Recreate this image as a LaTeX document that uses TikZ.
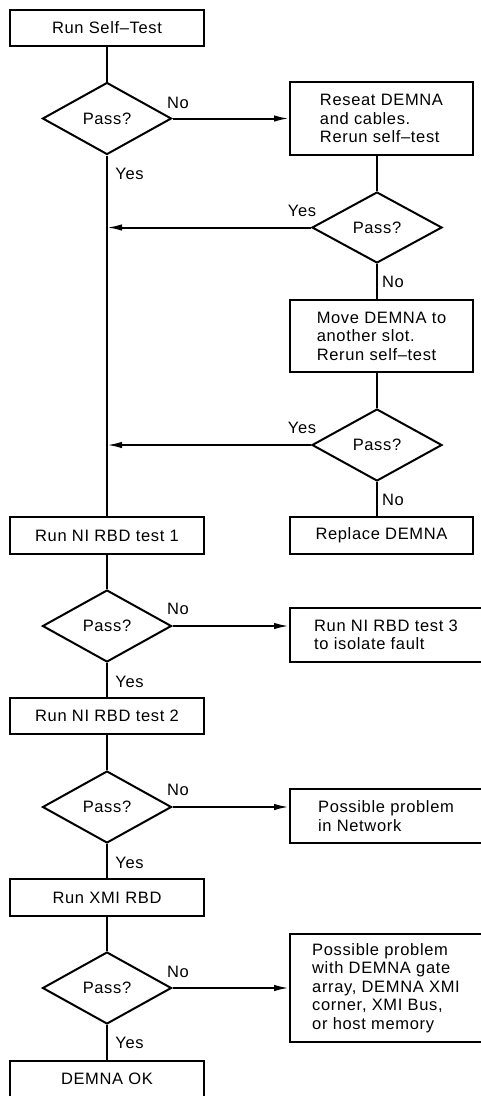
\documentclass[tikz,border=0pt]{standalone}
\usepackage{fontspec}
\setmainfont{Liberation Sans}[LetterSpace=4]
\usetikzlibrary{arrows.meta, shapes.geometric}
\tikzset{
  every picture/.style={line width=2pt},
  box/.style={draw, align=center, inner sep=4pt, minimum width=#1, minimum height=36pt},
  box/.default=194pt,
  note/.style={draw, align=left, inner sep=4pt, minimum width=#1},
  note/.default=192pt,
  test/.style={draw, diamond, minimum width=129pt, minimum height=72pt, inner sep=0pt},
  arrow/.style={-{Latex[length=15pt, width=6.5pt]}},
  lbl/.style={inner sep=0pt},
}

\begin{document}
\begin{tikzpicture}[x=1pt, y=-1pt, font=\fontsize{16.5}{18.5}\selectfont]
  \useasboundingbox (0,0) rectangle (481,1096);
  \clip (0,0) rectangle (481,1096);
  % left column
  \node[box] (self) at (107,27.5) {Run Self--Test};
  \node[test] (p1) at (107,118.5) {Pass?};
  \node[box, minimum height=37pt] (rbd1) at (107,535.5) {Run NI RBD test 1};
  \node[test] (p4) at (107,626) {Pass?};
  \node[box] (rbd2) at (107,716) {Run NI RBD test 2};
  \node[test] (p5) at (107,807) {Pass?};
  \node[box, minimum height=37pt] (xmi) at (107,897.5) {Run XMI RBD};
  \node[test] (p6) at (107,988) {Pass?};
  \node[box] (ok) at (107,1079) {DEMNA OK};
  % right column
  \node[note=183pt, minimum height=73pt] (reseat) at (381.5,118.5) {Reseat DEMNA\\and cables.\\Rerun self--test};
  \node[test, minimum width=130pt, minimum height=71pt] (p2) at (377,227.5) {Pass?};
  \node[note=183pt, minimum height=72pt] (move) at (381.5,336) {Move DEMNA to\\another slot.\\Rerun self--test};
  \node[test, minimum width=130pt] (p3) at (377,445) {Pass?};
  \node[box=183pt, minimum height=37pt] (replace) at (381.5,535.5) {Replace DEMNA};
  \node[note, minimum height=54pt] (rbd3) at (386,635) {Run NI RBD test 3\\to isolate fault};
  \node[note, minimum height=54pt] (network) at (386,816) {Possible problem\\in Network};
  \node[note, minimum height=108pt] (memory) at (386,988) {Possible problem\\with DEMNA gate\\array, DEMNA XMI\\corner, XMI Bus,\\or host memory};
  % connectors
  \draw (self) -- (p1);
  \draw (p1) -- (rbd1);
  \draw[arrow] (p1) -- (reseat);
  \draw (p2.north |- reseat.south) -- (p2);
  \draw[arrow] (p2) -- (p2 -| p1);
  \draw (p2) -- (p2.south |- move.north);
  \draw (p3.north |- move.south) -- (p3);
  \draw[arrow] (p3) -- (p3 -| p1);
  \draw (p3) -- (p3.south |- replace.north);
  \draw (rbd1) -- (p4);
  \draw[arrow] (p4) -- (p4 -| rbd3.west);
  \draw (p4) -- (rbd2);
  \draw (rbd2) -- (p5);
  \draw[arrow] (p5) -- (p5 -| network.west);
  \draw (p5) -- (xmi);
  \draw (xmi) -- (p6);
  \draw[arrow] (p6) -- (memory);
  \draw (p6) -- (ok);
  % labels
  \node[lbl] (no1) at (178,103) {No};
  \node[lbl] (yes1) at (129.5,174) {Yes};
  \node[lbl] (yes2) at (302,211) {Yes};
  \node[lbl] (no2) at (393,282) {No};
  \node[lbl] (yes3) at (302,428) {Yes};
  \node[lbl] (no3) at (393,500) {No};
  \node[lbl] (no4) at (178,609) {No};
  \node[lbl] (yes4) at (129.5,682) {Yes};
  \node[lbl] (no5) at (178,790) {No};
  \node[lbl] (yes5) at (129.5,863) {Yes};
  \node[lbl] (no6) at (178,972) {No};
  \node[lbl] (yes6) at (129.5,1043) {Yes};
\end{tikzpicture}
\end{document}
